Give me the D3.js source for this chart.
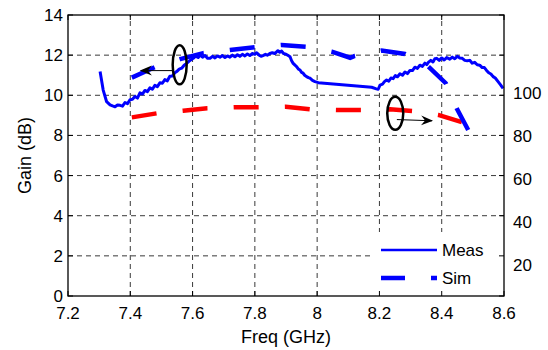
<!DOCTYPE html>
<html>
<head>
<meta charset="utf-8">
<script src="https://cdn.jsdelivr.net/npm/d3@7"></script>
<style>
  body { margin: 0; background: #fff; }
  svg { display: block; font-family: "Liberation Sans", Arial, sans-serif; }
</style>
</head>
<body>
<svg id="chart" width="548" height="350"></svg>
<script>
// measured gain (dB)
var measFreq = [7.303,7.313,7.324,7.335,7.343,7.351,7.359,7.367,7.375,7.383,7.391,7.399,7.407,7.415,7.423,7.431,7.439,7.447,7.455,7.463,
  7.471,7.479,7.487,7.495,7.503,7.511,7.519,7.527,7.535,7.543,7.549,7.557,7.565,7.573,7.581,7.589,7.596,7.602,7.610,7.618,
  7.624,7.632,7.640,7.648,7.656,7.664,7.672,7.680,7.688,7.696,7.704,7.712,7.720,7.728,7.736,7.744,7.752,7.760,7.768,7.776,
  7.784,7.792,7.800,7.806,7.814,7.820,7.826,7.834,7.840,7.848,7.856,7.864,7.874,7.880,7.886,7.892,7.900,7.907,7.913,7.918,
  7.923,7.929,7.934,7.940,7.945,7.950,7.955,7.960,7.966,7.972,7.977,7.985,7.993,8.004,8.175,8.190,8.196,8.202,8.210,8.216,
  8.223,8.230,8.237,8.244,8.251,8.258,8.266,8.274,8.282,8.290,8.298,8.306,8.314,8.322,8.330,8.338,8.346,8.352,8.357,8.365,
  8.372,8.378,8.384,8.392,8.400,8.408,8.416,8.426,8.434,8.442,8.450,8.458,8.466,8.474,8.482,8.490,8.498,8.506,8.514,8.522,
  8.530,8.537,8.544,8.551,8.558,8.565,8.572,8.581,8.589,8.597];
var measGain = [11.18,10.26,9.68,9.52,9.47,9.43,9.52,9.50,9.46,9.64,9.58,9.78,9.80,9.94,9.86,10.12,10.06,10.24,10.18,10.37,
  10.30,10.50,10.43,10.62,10.60,10.78,10.72,10.95,10.96,11.12,11.18,11.30,11.35,11.50,11.59,11.70,11.78,11.84,11.95,11.88,
  12.00,11.90,11.98,11.84,11.84,11.94,11.86,11.96,11.90,11.98,11.88,11.96,11.90,12.00,11.92,12.02,11.94,12.04,11.96,12.06,
  11.98,12.08,12.04,12.12,12.00,11.94,11.98,12.04,12.00,12.08,12.12,12.08,12.22,12.14,12.20,12.08,12.05,11.98,11.92,11.72,
  11.59,11.50,11.43,11.30,11.26,11.14,11.10,11.00,10.93,10.88,10.85,10.74,10.68,10.63,10.40,10.32,10.30,10.51,10.56,10.68,
  10.76,10.70,10.86,10.83,10.98,10.92,11.07,11.00,11.16,11.08,11.24,11.23,11.40,11.34,11.50,11.44,11.60,11.53,11.64,11.74,
  11.66,11.82,11.84,11.74,11.86,11.76,11.88,11.80,11.90,11.82,11.94,11.86,11.84,11.74,11.72,11.74,11.60,11.64,11.52,11.50,
  11.38,11.38,11.24,11.12,11.06,10.93,10.86,10.68,10.52,10.35];

// simulated gain (dB)
var simFreq = [7.405,7.479,7.560,7.634,7.720,7.800,7.886,7.966,8.047,8.106,8.121,8.207,8.282,8.357,8.413,8.448,8.485];
var simGain = [10.88,11.40,11.80,12.10,12.26,12.40,12.51,12.42,12.17,11.87,11.96,12.23,12.06,11.43,10.60,9.35,8.27];

// simulated efficiency (%), right axis
var effFreq = [7.405,7.485,7.570,7.647,7.733,7.811,7.899,7.977,8.063,8.141,8.234,8.307,8.389,8.467];
var effVal  = [89.0,91.0,92.3,93.5,94.0,94.0,94.3,93.0,92.7,92.7,93.0,92.2,90.2,86.5];

var xTicks = [7.2,7.4,7.6,7.8,8,8.2,8.4,8.6];
var yTicks = [0,2,4,6,8,10,12,14];
var effTicks = [20,40,60,80,100];
var legendLabels = ["Meas", "Sim"];

// ellipse markers + arrows (data coords)
var ellFreq = [7.5586, 8.2508];
var ellGain = [11.52, 9.10];
var arrowFrom = [[7.537, 11.23], [8.256, 8.79]];
var arrowTo = [[7.434, 11.23], [8.369, 8.73]];

var svg = d3.select("#chart"),
  margin = {top: 15, right: 44, bottom: 54, left: 68},
  width = +svg.attr("width"),
  height = +svg.attr("height");

var x = d3.scaleLinear().domain([7.2, 8.6]).range([margin.left, width - margin.right]);
var y = d3.scaleLinear().domain([0, 14]).range([height - margin.bottom, margin.top]);
var yEff = d3.scaleLinear().domain([0, 140]).range([height - margin.bottom, margin.top]);
var yLab = d3.scaleLinear().domain([20, 100]).range([265, 93]);

var x0 = margin.left, x1 = width - margin.right, y0 = height - margin.bottom, y1 = margin.top;

svg.append("defs").append("marker")
  .attr("id", "head")
  .attr("viewBox", "0 -6 12 12")
  .attr("refX", 11).attr("refY", 0)
  .attr("markerUnits", "userSpaceOnUse")
  .attr("markerWidth", 12).attr("markerHeight", 12)
  .attr("orient", "auto")
  .append("path")
  .attr("d", "M0,-5L12,0L0,5L4,0Z")
  .attr("fill", "#000");

// grid
var grid = svg.append("g").attr("stroke", "#222").attr("stroke-width", 0.9).attr("stroke-dasharray", "5,4");
grid.selectAll(".gx").data(xTicks.slice(1, -1)).enter().append("line")
  .attr("x1", d => x(d)).attr("x2", d => x(d)).attr("y1", y0).attr("y2", y1);
grid.selectAll(".gy").data(yTicks.slice(1, -1)).enter().append("line")
  .attr("y1", d => y(d)).attr("y2", d => y(d)).attr("x1", x0).attr("x2", x1);

// curves
var meas = measFreq.map((f, i) => [f, measGain[i]]);
var sim = simFreq.map((f, i) => [f, simGain[i]]);
var eff = effFreq.map((f, i) => [f, effVal[i]]);

var line = d3.line().x(d => x(d[0])).y(d => y(d[1]));
var lineEff = d3.line().x(d => x(d[0])).y(d => yEff(d[1]));

svg.append("path").datum(eff)
  .attr("d", lineEff)
  .attr("fill", "none").attr("stroke", "#ff0000").attr("stroke-width", 4.5)
  .attr("stroke-dasharray", "25,26.2");

svg.append("path").datum(sim)
  .attr("d", line)
  .attr("fill", "none").attr("stroke", "#0000ff").attr("stroke-width", 4.5)
  .attr("stroke-dasharray", "25,26.2");

svg.append("path").datum(meas)
  .attr("d", line)
  .attr("fill", "none").attr("stroke", "#0000ff").attr("stroke-width", 3)
  .attr("stroke-linejoin", "round");

// annotations
svg.selectAll(".ell").data(ellFreq).enter().append("ellipse")
  .attr("cx", d => x(d)).attr("cy", (d, i) => y(ellGain[i]))
  .attr("rx", (d, i) => i ? 8 : 7).attr("ry", (d, i) => i ? 16.5 : 19.5)
  .attr("fill", "none").attr("stroke", "#000").attr("stroke-width", 2.5);

svg.selectAll(".arr").data(arrowFrom).enter().append("line")
  .attr("x1", d => x(d[0])).attr("y1", d => y(d[1]))
  .attr("x2", (d, i) => x(arrowTo[i][0])).attr("y2", (d, i) => y(arrowTo[i][1]))
  .attr("stroke", "#000").attr("stroke-width", 1)
  .attr("marker-end", "url(#head)");

// legend
var lg = svg.append("g");
lg.append("rect").attr("x", 370).attr("y", 232).attr("width", x1 - 370).attr("height", y0 - 232).attr("fill", "#fff");
lg.selectAll(".lgl").data(legendLabels).enter().append("line")
  .attr("x1", 381).attr("x2", 437)
  .attr("y1", (d, i) => 250 + i * 28).attr("y2", (d, i) => 250 + i * 28)
  .attr("stroke", "#0000ff")
  .attr("stroke-width", (d, i) => i ? 4.5 : 2.5)
  .attr("stroke-dasharray", (d, i) => i ? "24,26" : null);
lg.selectAll(".lgt").data(legendLabels).enter().append("text")
  .attr("x", 442).attr("y", (d, i) => 256 + i * 28)
  .attr("font-size", 17).text(d => d);

// box + ticks
svg.append("rect").attr("x", x0).attr("y", y1).attr("width", x1 - x0).attr("height", y0 - y1)
  .attr("fill", "none").attr("stroke", "#000").attr("stroke-width", 1.3);

var tk = svg.append("g").attr("stroke", "#000").attr("stroke-width", 1);
xTicks.forEach(t => {
  tk.append("line").attr("x1", x(t)).attr("x2", x(t)).attr("y1", y0).attr("y2", y0 - 5);
  tk.append("line").attr("x1", x(t)).attr("x2", x(t)).attr("y1", y1).attr("y2", y1 + 5);
});
yTicks.forEach(t => {
  tk.append("line").attr("y1", y(t)).attr("y2", y(t)).attr("x1", x0).attr("x2", x0 + 5);
  tk.append("line").attr("y1", y(t)).attr("y2", y(t)).attr("x1", x1).attr("x2", x1 - 5);
});

// tick labels
svg.selectAll(".xl").data(xTicks).enter().append("text")
  .attr("x", d => x(d)).attr("y", y0 + 23)
  .attr("text-anchor", "middle").attr("font-size", 17)
  .text(d => d);

svg.selectAll(".yl").data(yTicks).enter().append("text")
  .attr("x", x0 - 5).attr("y", d => y(d)).attr("dy", "0.35em")
  .attr("text-anchor", "end").attr("font-size", 17)
  .text(d => d);

svg.selectAll(".rl").data(effTicks).enter().append("text")
  .attr("x", x1 + 9).attr("y", d => yLab(d)).attr("dy", "0.35em")
  .attr("text-anchor", "start").attr("font-size", 17)
  .text(d => d);

// axis titles
svg.append("text")
  .attr("x", (x0 + x1) / 2).attr("y", 343)
  .attr("text-anchor", "middle").attr("font-size", 18)
  .text("Freq (GHz)");

svg.append("text")
  .attr("transform", "translate(31," + ((y0 + y1) / 2) + ") rotate(-90)")
  .attr("text-anchor", "middle").attr("font-size", 18)
  .text("Gain (dB)");
</script>
</body>
</html>
